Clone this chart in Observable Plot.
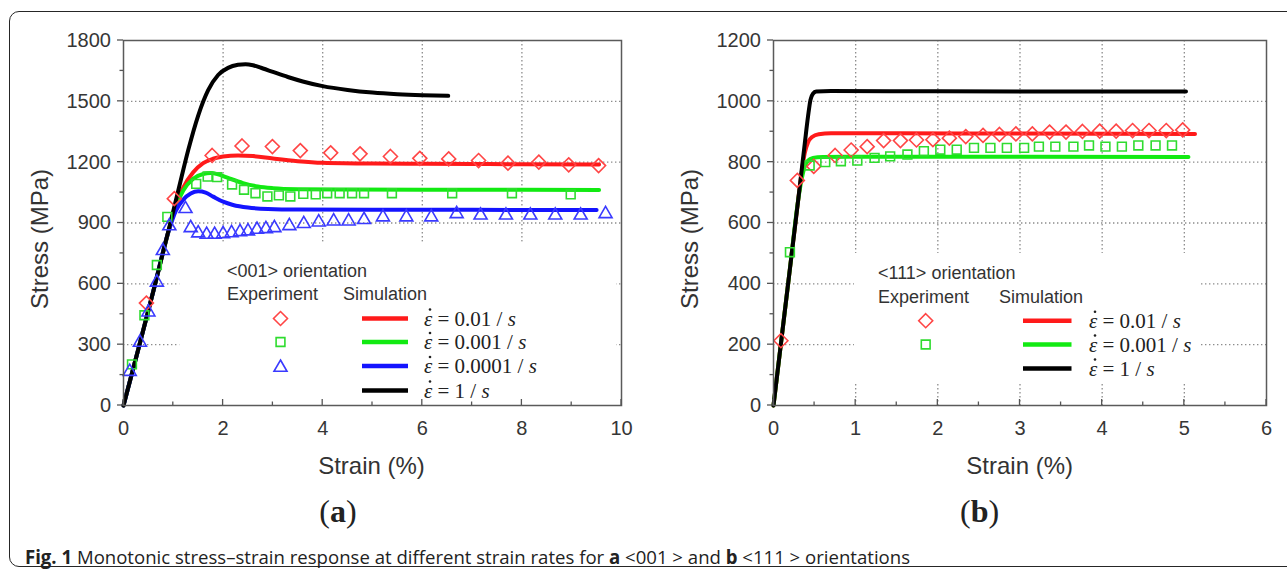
<!DOCTYPE html>
<html><head><meta charset="utf-8">
<script src="https://cdn.jsdelivr.net/npm/d3@7"></script>
<script src="https://cdn.jsdelivr.net/npm/@observablehq/plot@0.6"></script>
<style>
html,body{margin:0;padding:0;background:#fff;}
#wrap{position:relative;width:1287px;height:573px;overflow:hidden;background:#fff;}
#border{position:absolute;left:9px;top:11px;width:1320px;height:556px;border:1.5px solid #262626;border-radius:10px;box-sizing:border-box;}
.panel{position:absolute;top:0;}
#cap{position:absolute;left:0;top:0;}
#caption{position:absolute;left:25px;top:545px;white-space:nowrap;font-family:'Open Sans',sans-serif;font-size:19px;line-height:24px;color:#222;transform-origin:0 50%;}
#caption b{font-weight:bold;}
</style></head><body>
<div id="wrap"><div id="border"></div><div id="pa" class="panel" style="left:0px"></div><div id="pb" class="panel" style="left:650px"></div><svg id="cap" width="1287" height="573"></svg><div id="caption"></div></div>
<script>
// ---------- Tick values ----------
const strainTicksA = [0, 2, 4, 6, 8, 10];
const strainMinorA = [1, 3, 5, 7, 9];
const stressTicksA = [0, 300, 600, 900, 1200, 1500, 1800];
const stressMinorA = [150, 450, 750, 1050, 1350, 1650];
const strainTicksB = [0, 1, 2, 3, 4, 5, 6];
const strainMinorB = [0.5, 1.5, 2.5, 3.5, 4.5, 5.5];
const stressTicksB = [0, 200, 400, 600, 800, 1000, 1200];
const stressMinorB = [100, 300, 500, 700, 900, 1100];

// ---------- Panel (a) <001>: simulation curves [strain %, stress MPa] ----------
const simA_r01 = [[0,0],[0.3,280],[0.6,565],[0.9,855],[1.05,985],[1.2,1075],[1.4,1150],[1.6,1195],[1.8,1217],[2.0,1228],[2.3,1233],[2.6,1230],[3.0,1218],[3.5,1205],[4.0,1197],[5.0,1193],[6.0,1192],[7.0,1191],[8.0,1190],[9.55,1188]];
const simA_r001 = [[0,0],[0.3,280],[0.6,565],[0.9,855],[1.05,980],[1.2,1060],[1.4,1118],[1.6,1142],[1.75,1146],[1.9,1140],[2.1,1122],[2.4,1097],[2.7,1080],[3.0,1072],[3.5,1067],[4.5,1065],[6.0,1064],[8.0,1064],[9.55,1063]];
const simA_r0001 = [[0,0],[0.3,280],[0.6,565],[0.9,855],[1.05,960],[1.2,1015],[1.35,1045],[1.5,1056],[1.65,1050],[1.8,1030],[2.0,1005],[2.2,989],[2.5,976],[2.9,969],[3.5,966],[5.0,965],[7.0,965],[9.5,964]];
const simA_r1 = [[0,0],[0.3,280],[0.6,565],[0.9,860],[1.1,1060],[1.3,1260],[1.5,1430],[1.7,1555],[1.9,1630],[2.1,1665],[2.3,1680],[2.45,1683],[2.6,1678],[2.8,1662],[3.0,1645],[3.3,1620],[3.6,1598],[4.0,1575],[4.5,1556],[5.0,1543],[5.5,1535],[6.0,1530],[6.52,1527]];
// ---------- Panel (a) experiments ----------
const expA_r01 = [[0.46,505],[1.02,1020],[1.78,1233],[2.38,1280],[2.99,1277],[3.55,1257],[4.16,1246],[4.75,1241],[5.36,1228],[5.95,1219],[6.53,1216],[7.13,1208],[7.72,1195],[8.34,1200],[8.94,1187],[9.54,1183]];
const expA_r001 = [[0.17,203],[0.42,445],[0.67,693],[0.88,930],[1.46,1093],[1.69,1129],[1.88,1126],[2.18,1090],[2.42,1064],[2.65,1047],[2.89,1031],[3.12,1036],[3.35,1031],[3.61,1044],[3.86,1041],[4.09,1047],[4.34,1047],[4.59,1047],[4.83,1047],[5.39,1047],[6.6,1047],[7.8,1047],[8.98,1041]];
const expA_r0001 = [[0.125,167],[0.33,311],[0.5,460],[0.67,607],[0.79,763],[0.92,885],[1.245,970],[1.35,876],[1.5,850],[1.67,843],[1.83,843],[2.0,846],[2.17,851],[2.34,856],[2.5,860],[2.68,868],[2.86,871],[3.03,876],[3.33,886],[3.62,896],[3.92,904],[4.22,909],[4.52,909],[4.83,916],[5.21,929],[5.68,929],[6.18,929],[6.69,945],[7.17,938],[7.68,938],[8.17,938],[8.67,938],[9.18,938],[9.68,945]];

// ---------- Panel (b) <111>: simulation curves ----------
const simB_r01 = [[0,0],[0.1,225],[0.2,450],[0.3,675],[0.34,760],[0.38,830],[0.42,865],[0.47,883],[0.55,892],[0.7,895],[1.5,895],[3.0,894],[5.13,893]];
const simB_r001 = [[0,0],[0.1,225],[0.2,450],[0.3,675],[0.34,740],[0.38,785],[0.42,805],[0.48,814],[0.6,817],[1.0,818],[3.0,818],[5.05,817]];
const simB_r1 = [[0,0],[0.1,225],[0.2,450],[0.3,675],[0.38,860],[0.42,950],[0.45,1005],[0.48,1025],[0.52,1032],[0.7,1034],[2.0,1033],[5.02,1032]];
// ---------- Panel (b) experiments ----------
const expB_r01 = [[0.09,213],[0.29,740],[0.49,786],[0.75,822],[0.945,840],[1.14,851],[1.34,871],[1.545,871],[1.74,873],[1.94,874],[2.14,879],[2.34,884],[2.55,888],[2.75,891],[2.95,893],[3.15,893],[3.36,899],[3.56,899],[3.76,901],[3.97,902],[4.17,902],[4.37,904],[4.57,904],[4.78,904],[4.98,906]];
const expB_r001 = [[0.2,504],[0.44,789],[0.63,800],[0.82,803],[1.02,805],[1.23,814],[1.42,819],[1.63,825],[1.83,836],[2.03,841],[2.23,841],[2.44,847],[2.64,847],[2.84,847],[3.05,847],[3.23,851],[3.43,851],[3.65,851],[3.84,855],[4.04,851],[4.24,851],[4.44,855],[4.65,855],[4.85,855]];

// ---------- Text ----------
const titleA = "<001> orientation";
const titleB = "<111> orientation";
const rateLabelsA = ["0.01", "0.001", "0.0001", "1"];
const rateLabelsB = ["0.01", "0.001", "1"];
const xTitle = "Strain (%)";
const yTitle = "Stress (MPa)";
const captionParts = [["Fig. 1", true], [" Monotonic stress\u2013strain response at different strain rates for ", false], ["a", true],
  [" <001 > and ", false], ["b", true], [" <111 > orientations", false]];

const C = {red:"#ff1a1a", green:"#12ea12", blue:"#1414ff", black:"#000",
           mred:"#ff4545", mgreen:"#2fdc2f", mblue:"#3a3aff"};
const SANS = "'Liberation Sans', Arial, sans-serif";
const SERIF = "'Liberation Serif', 'Times New Roman', serif";

function rateText(g, x, y, val) {
  const t = g.append("text").attr("x", x).attr("y", y).attr("dy", "0.34em").attr("text-anchor", "start")
    .style("font-family", SERIF).style("font-size", "21px").attr("fill", "#222");
  t.append("tspan").style("font-style", "italic").text("\u03B5");
  t.append("tspan").text(" = " + val + " / ");
  t.append("tspan").style("font-style", "italic").text("s");
  g.append("circle").attr("cx", x + 6).attr("cy", y - 9).attr("r", 1.3).attr("fill", "#222");
}

function makePanel(cfg) {
  const xy = {x: d => d[0], y: d => d[1]};
  const marks = [
    Plot.ruleX(cfg.gridX, {x: d => d, stroke: "#8c8c8c", strokeWidth: 1.3, strokeDasharray: "1.4,2.6"}),
    Plot.ruleY(cfg.gridY, {y: d => d, stroke: "#8c8c8c", strokeWidth: 1.3, strokeDasharray: "1.4,2.6"}),
    ...cfg.sims.map(s => Plot.line(s.data, {...xy, stroke: s.color, strokeWidth: 4, curve: "monotone-x"})),
    ...cfg.exps.map(e => Plot.dot(e.data, {...xy, symbol: e.symbol, r: e.r, stroke: e.color, strokeWidth: 1.6, fill: "none"})),
    Plot.frame({stroke: "#5a5a5a", strokeWidth: 1.5})
  ];
  const plot = Plot.plot({
    width: cfg.width, height: 480,
    marginTop: 40, marginBottom: 75, marginLeft: 123, marginRight: cfg.marginRight,
    x: {domain: cfg.xDomain, ticks: cfg.xTicks, tickSize: 0, tickPadding: 15, label: null, tickFormat: d => String(d)},
    y: {domain: cfg.yDomain, ticks: cfg.yTicks, tickSize: 0, tickPadding: 12.5, label: null, tickFormat: d => String(d)},
    style: {fontFamily: SANS, fontSize: "20px", color: "#363636", background: "transparent", overflow: "visible"},
    marks
  });
  const xs = plot.scale("x"), ys = plot.scale("y");
  const sx = d3.scaleLinear(xs.domain, xs.range), sy = d3.scaleLinear(ys.domain, ys.range);
  const svg = d3.select(plot);
  // white legend background hiding the grid
  const firstLine = plot.querySelector('g[aria-label="line"]');
  const bg = document.createElementNS("http://www.w3.org/2000/svg", "rect");
  const bx0 = sx(cfg.box[0]), bx1 = sx(cfg.box[1]), by0 = sy(cfg.box[2]), by1 = sy(cfg.box[3]);
  bg.setAttribute("x", bx0); bg.setAttribute("width", bx1 - bx0);
  bg.setAttribute("y", by1); bg.setAttribute("height", by0 - by1);
  bg.setAttribute("fill", "#fff");
  plot.insertBefore(bg, firstLine);
  // ticks
  const tg = svg.append("g").attr("stroke", "#555").attr("stroke-width", 1.3);
  const y0 = sy(cfg.yDomain[0]), x0 = sx(cfg.xDomain[0]);
  cfg.yTicks.forEach(v => tg.append("line").attr("x1", x0 - 6).attr("x2", x0).attr("y1", sy(v)).attr("y2", sy(v)));
  cfg.yMinor.forEach(v => tg.append("line").attr("x1", x0 - 3.5).attr("x2", x0).attr("y1", sy(v)).attr("y2", sy(v)));
  cfg.xTicks.forEach(v => tg.append("line").attr("x1", sx(v)).attr("x2", sx(v)).attr("y1", y0 - 6).attr("y2", y0));
  cfg.xMinor.forEach(v => tg.append("line").attr("x1", sx(v)).attr("x2", sx(v)).attr("y1", y0 - 3.5).attr("y2", y0));
  // axis titles
  svg.append("text").attr("transform", `translate(${cfg.yTitlePos[0]},${cfg.yTitlePos[1]}) rotate(-90)`)
    .attr("text-anchor", "middle").attr("dy", "0.35em").style("font-family", SANS).style("font-size", "24px")
    .attr("fill", "#333").text(yTitle);
  svg.append("text").attr("x", cfg.xTitlePos[0]).attr("y", cfg.xTitlePos[1]).attr("text-anchor", "middle")
    .attr("dy", "0.35em").style("font-family", SANS).style("font-size", "24px").attr("fill", "#333").text(xTitle);
  // legend
  const L = cfg.legend;
  const lg = svg.append("g").attr("text-anchor", "start");
  const txt = (x, y, s) => lg.append("text").attr("x", x).attr("y", y).attr("dy", "0.35em").attr("text-anchor", "start")
    .style("font-family", SANS).style("font-size", "18px").attr("fill", "#333").text(s);
  txt(L.tx, L.ty, cfg.title);
  txt(L.tx, L.hy, "Experiment");
  txt(L.sx, L.hy, "Simulation");
  cfg.exps.forEach((e, i) => {
    lg.append("path").attr("transform", `translate(${L.mx},${L.rows[i] + (e.symbol === "triangle2" ? 1.5 : 0)})`)
      .attr("d", d3.symbol(e.symbol === "diamond2" ? d3.symbolDiamond2 : e.symbol === "square2" ? d3.symbolSquare2 : d3.symbolTriangle2, e.r * e.r * Math.PI)())
      .attr("fill", "none").attr("stroke", e.color).attr("stroke-width", 1.6);
  });
  cfg.sims.forEach((s, i) => {
    const row = L.rows[cfg.legendOrder[i]];
    lg.append("line").attr("x1", L.lx0).attr("x2", L.lx1).attr("y1", row).attr("y2", row)
      .attr("stroke", s.color).attr("stroke-width", 4.5);
    rateText(lg, L.rx, row, s.label);
  });
  return plot;
}

// Panel (a)
const pa = makePanel({
  width: 650, marginRight: 29,
  xDomain: [0, 10], yDomain: [0, 1800],
  xTicks: strainTicksA, xMinor: strainMinorA, yTicks: stressTicksA, yMinor: stressMinorA,
  gridX: strainTicksA.slice(1, -1), gridY: stressTicksA.slice(1, -1),
  box: [1.13, 9.9, 0, 805],
  title: titleA,
  sims: [
    {data: simA_r01, color: C.red, label: rateLabelsA[0]},
    {data: simA_r001, color: C.green, label: rateLabelsA[1]},
    {data: simA_r0001, color: C.blue, label: rateLabelsA[2]},
    {data: simA_r1, color: C.black, label: rateLabelsA[3]}
  ],
  legendOrder: [0, 1, 2, 3],
  exps: [
    {data: expA_r01, color: C.mred, symbol: "diamond2", r: 6.3},
    {data: expA_r001, color: C.mgreen, symbol: "square2", r: 5.6},
    {data: expA_r0001, color: C.mblue, symbol: "triangle2", r: 6.2}
  ],
  yTitlePos: [40, 239], xTitlePos: [371.5, 466],
  legend: {tx: 227, ty: 271, hy: 294, sx: 343, mx: 280.5, rows: [318.5, 342, 366, 390.5], lx0: 362, lx1: 408, rx: 424}
});
document.getElementById("pa").appendChild(pa);

// Panel (b)
const OB = 650;
const pb = makePanel({
  width: 637, marginRight: 21,
  xDomain: [0, 6], yDomain: [0, 1200],
  xTicks: strainTicksB, xMinor: strainMinorB, yTicks: stressTicksB, yMinor: stressMinorB,
  gridX: strainTicksB.slice(1, -1), gridY: stressTicksB.slice(1, -1),
  box: [0.985, 5.2, 70, 500],
  title: titleB,
  sims: [
    {data: simB_r01, color: C.red, label: rateLabelsB[0]},
    {data: simB_r001, color: C.green, label: rateLabelsB[1]},
    {data: simB_r1, color: C.black, label: rateLabelsB[2]}
  ],
  legendOrder: [0, 1, 2],
  exps: [
    {data: expB_r01, color: C.mred, symbol: "diamond2", r: 6.3},
    {data: expB_r001, color: C.mgreen, symbol: "square2", r: 5.6}
  ],
  yTitlePos: [690 - OB, 239], xTitlePos: [1019.7 - OB, 466],
  legend: {tx: 878 - OB, ty: 272.5, hy: 296.5, sx: 999 - OB, mx: 925.7 - OB, rows: [320.7, 344.5, 368.5], lx0: 1023 - OB, lx1: 1071.5 - OB, rx: 1089 - OB}
});
document.getElementById("pb").appendChild(pb);

// Caption (HTML, horizontally condensed to the reference width)
const capDiv = document.getElementById("caption");
captionParts.forEach(([s, b]) => {
  const el = document.createElement(b ? "b" : "span");
  el.textContent = s;
  capDiv.appendChild(el);
});
const natural = capDiv.getBoundingClientRect().width;
capDiv.style.transform = `scaleX(${885 / natural})`;

// Panel letters
const cap = d3.select("#cap");
[["a", 338], ["b", 979.6]].forEach(([l, x]) => {
  const t = cap.append("text").attr("x", x).attr("y", 522).attr("text-anchor", "middle")
    .style("font-family", SERIF).style("font-size", "32px").attr("fill", "#222");
  t.append("tspan").text("(");
  t.append("tspan").style("font-weight", "bold").text(l);
  t.append("tspan").text(")");
});
</script>
</body></html>
